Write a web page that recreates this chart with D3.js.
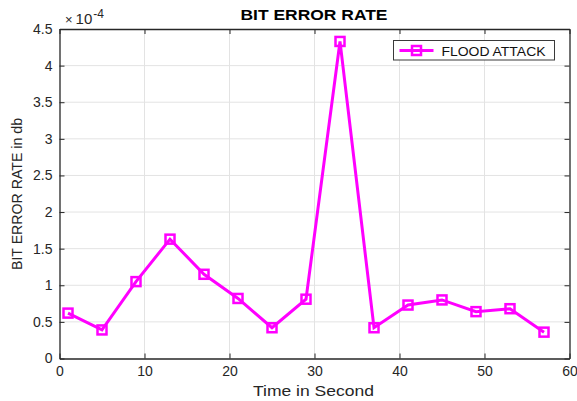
<!DOCTYPE html>
<html>
<head>
<meta charset="utf-8">
<script src="https://cdn.jsdelivr.net/npm/d3@7/dist/d3.min.js"></script>
<style>
  html, body { margin: 0; padding: 0; background: #fff; }
  svg { display: block; font-family: "Liberation Sans", Arial, Helvetica, sans-serif; }
</style>
</head>
<body>
<svg id="chart" width="577" height="401"></svg>
<script>
// Time samples (seconds) and bit error rate (×10^-4)
const timeSeconds = [1, 5, 9, 13, 17, 21, 25, 29, 33, 37, 41, 45, 49, 53, 57];
const floodAttackBer = [0.62, 0.39, 1.05, 1.63, 1.15, 0.82, 0.42, 0.81, 4.33, 0.42, 0.73, 0.80, 0.64, 0.68, 0.36];
const xTicks = [0, 10, 20, 30, 40, 50, 60];
const yTicks = [0, 0.5, 1, 1.5, 2, 2.5, 3, 3.5, 4, 4.5];
const seriesName = "FLOOD ATTACK";

const svg = d3.select("#chart");
const m = { left: 59.5, right: 569.5, top: 29, bottom: 358.5 };
const axisColor = "#262626";
const magenta = "#ff00ff";

const x = d3.scaleLinear().domain([0, 60]).range([m.left, m.right]);
const y = d3.scaleLinear().domain([0, 4.5]).range([m.bottom, m.top]);

// grid
const grid = svg.append("g");
grid.selectAll(".gx").data(xTicks.slice(1, -1)).enter().append("line")
  .attr("x1", d => x(d)).attr("x2", d => x(d))
  .attr("y1", m.top).attr("y2", m.bottom)
  .attr("stroke", "#e3e3e3").attr("stroke-width", 1);
grid.selectAll(".gy").data(yTicks.slice(1, -1)).enter().append("line")
  .attr("y1", d => y(d)).attr("y2", d => y(d))
  .attr("x1", m.left).attr("x2", m.right)
  .attr("stroke", "#e3e3e3").attr("stroke-width", 1);

// axes (ticks pointing inward, box on all sides)
const fmt = d => String(d);
const xAxis = svg.append("g").attr("transform", `translate(0,${m.bottom})`)
  .call(d3.axisBottom(x).tickValues(xTicks).tickFormat(fmt).tickSizeInner(-5).tickSizeOuter(0).tickPadding(8));
const xAxisTop = svg.append("g").attr("transform", `translate(0,${m.top})`)
  .call(d3.axisTop(x).tickValues(xTicks).tickFormat("").tickSizeInner(-5).tickSizeOuter(0));
const yAxis = svg.append("g").attr("transform", `translate(${m.left},0)`)
  .call(d3.axisLeft(y).tickValues(yTicks).tickFormat(fmt).tickSizeInner(-5).tickSizeOuter(0).tickPadding(7));
const yAxisRight = svg.append("g").attr("transform", `translate(${m.right},0)`)
  .call(d3.axisRight(y).tickValues(yTicks).tickFormat("").tickSizeInner(-5).tickSizeOuter(0));

[xAxis, xAxisTop, yAxis, yAxisRight].forEach(g => {
  g.selectAll("path").attr("stroke", axisColor).attr("stroke-width", 1.3);
  g.selectAll("line").attr("stroke", axisColor).attr("stroke-width", 1);
  g.selectAll("text").attr("fill", axisColor).attr("font-size", 14)
    .attr("font-family", "Liberation Sans, Arial, sans-serif");
});

// series
const pts = timeSeconds.map((t, i) => [t, floodAttackBer[i]]);
svg.append("path").datum(pts)
  .attr("fill", "none").attr("stroke", magenta).attr("stroke-width", 3)
  .attr("stroke-linejoin", "miter")
  .attr("d", d3.line().x(d => x(d[0])).y(d => y(d[1])));

const ms = 9;
svg.selectAll(".mk").data(pts).enter().append("rect")
  .attr("x", d => x(d[0]) - ms / 2).attr("y", d => y(d[1]) - ms / 2)
  .attr("width", ms).attr("height", ms)
  .attr("fill", "none").attr("stroke", magenta).attr("stroke-width", 2.5);

// legend
const lg = svg.append("g").attr("transform", "translate(393.5,40.5)");
lg.append("rect").attr("width", 161).attr("height", 19.5)
  .attr("fill", "#fff").attr("stroke", "#3a3a3a").attr("stroke-width", 1);
lg.append("line").attr("x1", 6).attr("x2", 40).attr("y1", 10).attr("y2", 10)
  .attr("stroke", magenta).attr("stroke-width", 3);
lg.append("rect").attr("x", 23 - ms / 2).attr("y", 10 - ms / 2).attr("width", ms).attr("height", ms)
  .attr("fill", "none").attr("stroke", magenta).attr("stroke-width", 2.5);
lg.append("text").attr("x", 48).attr("y", 15).text(seriesName)
  .attr("font-size", 13).attr("fill", "#111")
  .attr("textLength", 104).attr("lengthAdjust", "spacingAndGlyphs");

// title & labels
svg.append("text").attr("x", 314).attr("y", 20)
  .attr("text-anchor", "middle").attr("font-weight", "bold").attr("font-size", 14.5)
  .attr("fill", "#000").text("BIT ERROR RATE")
  .attr("textLength", 147).attr("lengthAdjust", "spacingAndGlyphs");

svg.append("text").attr("x", 313.5).attr("y", 396)
  .attr("text-anchor", "middle").attr("font-size", 15).attr("fill", axisColor)
  .text("Time in Second")
  .attr("textLength", 121).attr("lengthAdjust", "spacingAndGlyphs");

svg.append("text")
  .attr("transform", `translate(22,194) rotate(-90)`)
  .attr("text-anchor", "middle").attr("font-size", 15).attr("fill", axisColor)
  .text("BIT ERROR RATE in db")
  .attr("textLength", 152).attr("lengthAdjust", "spacingAndGlyphs");

// exponent label
const ex = svg.append("text").attr("x", 65).attr("y", 24).attr("fill", axisColor).attr("font-size", 15);
ex.append("tspan").text("\u00d7").attr("font-size", 13);
ex.append("tspan").text("10").attr("dx", 3);
ex.append("tspan").text("-4").attr("font-size", 12).attr("dy", -6).attr("dx", 1);
</script>
</body>
</html>
